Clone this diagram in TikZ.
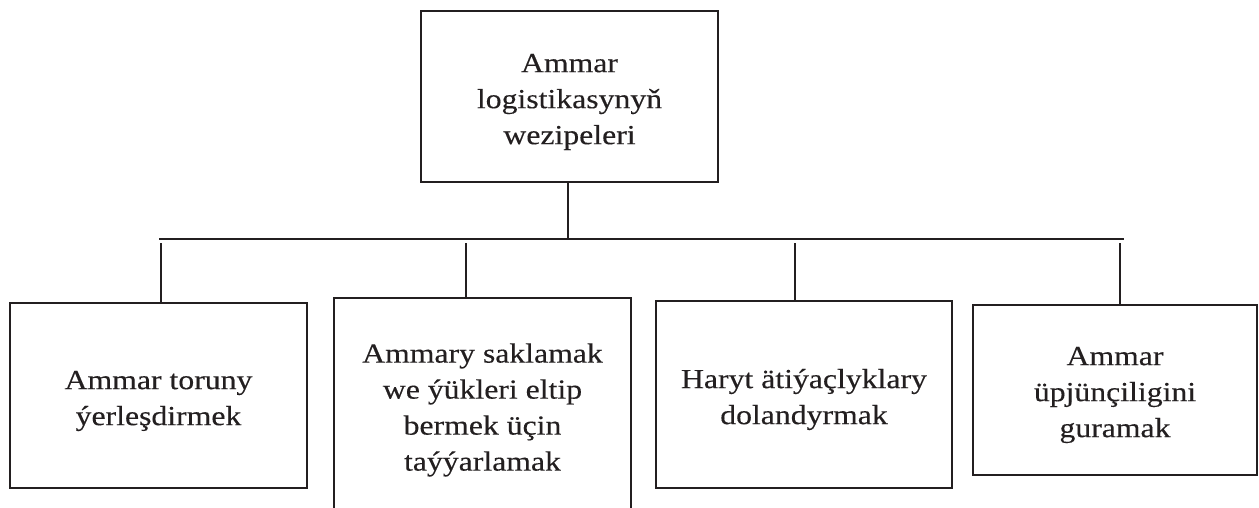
\documentclass[tikz,border=0pt]{standalone}
\usepackage{fontspec}
\setmainfont{Liberation Serif}[FakeStretch=1.15,FakeBold=0.25]
\definecolor{ink}{HTML}{231F20}
\begin{document}
\begin{tikzpicture}[x=1pt,y=-1pt,
  box/.style={draw=ink, line width=2.2pt, inner sep=0pt},
  txt/.style={align=center, inner sep=0pt, text=ink,
    font=\fontsize{27.6}{36}\selectfont},
  link/.style={draw=ink, line width=2.2pt}]
\useasboundingbox[fill=white] (0,0) rectangle (1259,508);
\clip (0,0) rectangle (1259,508);
% boxes
\node[box, minimum width=297pt, minimum height=171pt] (top) at (569.5,96.5) {};
\node[box, minimum width=297pt, minimum height=185pt] (b1) at (158.5,395.5) {};
\node[box, minimum width=297pt, minimum height=224pt] (b2) at (482.5,410) {};
\node[box, minimum width=296pt, minimum height=187pt] (b3) at (804,394.5) {};
\node[box, minimum width=284pt, minimum height=170pt] (b4) at (1115,390) {};
% texts
\node[txt] (topt) at ([yshift=-5.5pt]top.center) {Ammar\\logistikasynyň\\wezipeleri};
\node[txt] (b1t) at ([yshift=-5.5pt]b1.center) {Ammar toruny\\ýerleşdirmek};
\node[txt] (b2t) at (b2.center) {Ammary saklamak\\we ýükleri eltip\\bermek üçin\\taýýarlamak};
\node[txt] (b3t) at ([yshift=-5pt]b3.center) {Haryt ätiýaçlyklary\\dolandyrmak};
\node[txt] (b4t) at ([yshift=-5pt]b4.center) {Ammar\\üpjünçiligini\\guramak};
% connectors
\coordinate (busL) at (159,239);
\coordinate (busR) at (1124,239);
\coordinate (busC) at (568,239);
\coordinate (d1) at (161,243);
\coordinate (d2) at (466,243);
\coordinate (d3) at (795,243);
\coordinate (d4) at (1120,243);
\draw[link] (busC |- top.south) -- (busC);
\draw[link] (busL) -- (busR);
\draw[link] (d1) -- (d1 |- b1.north);
\draw[link] (d2) -- (d2 |- b2.north);
\draw[link] (d3) -- (d3 |- b3.north);
\draw[link] (d4) -- (d4 |- b4.north);
\end{tikzpicture}
\end{document}
